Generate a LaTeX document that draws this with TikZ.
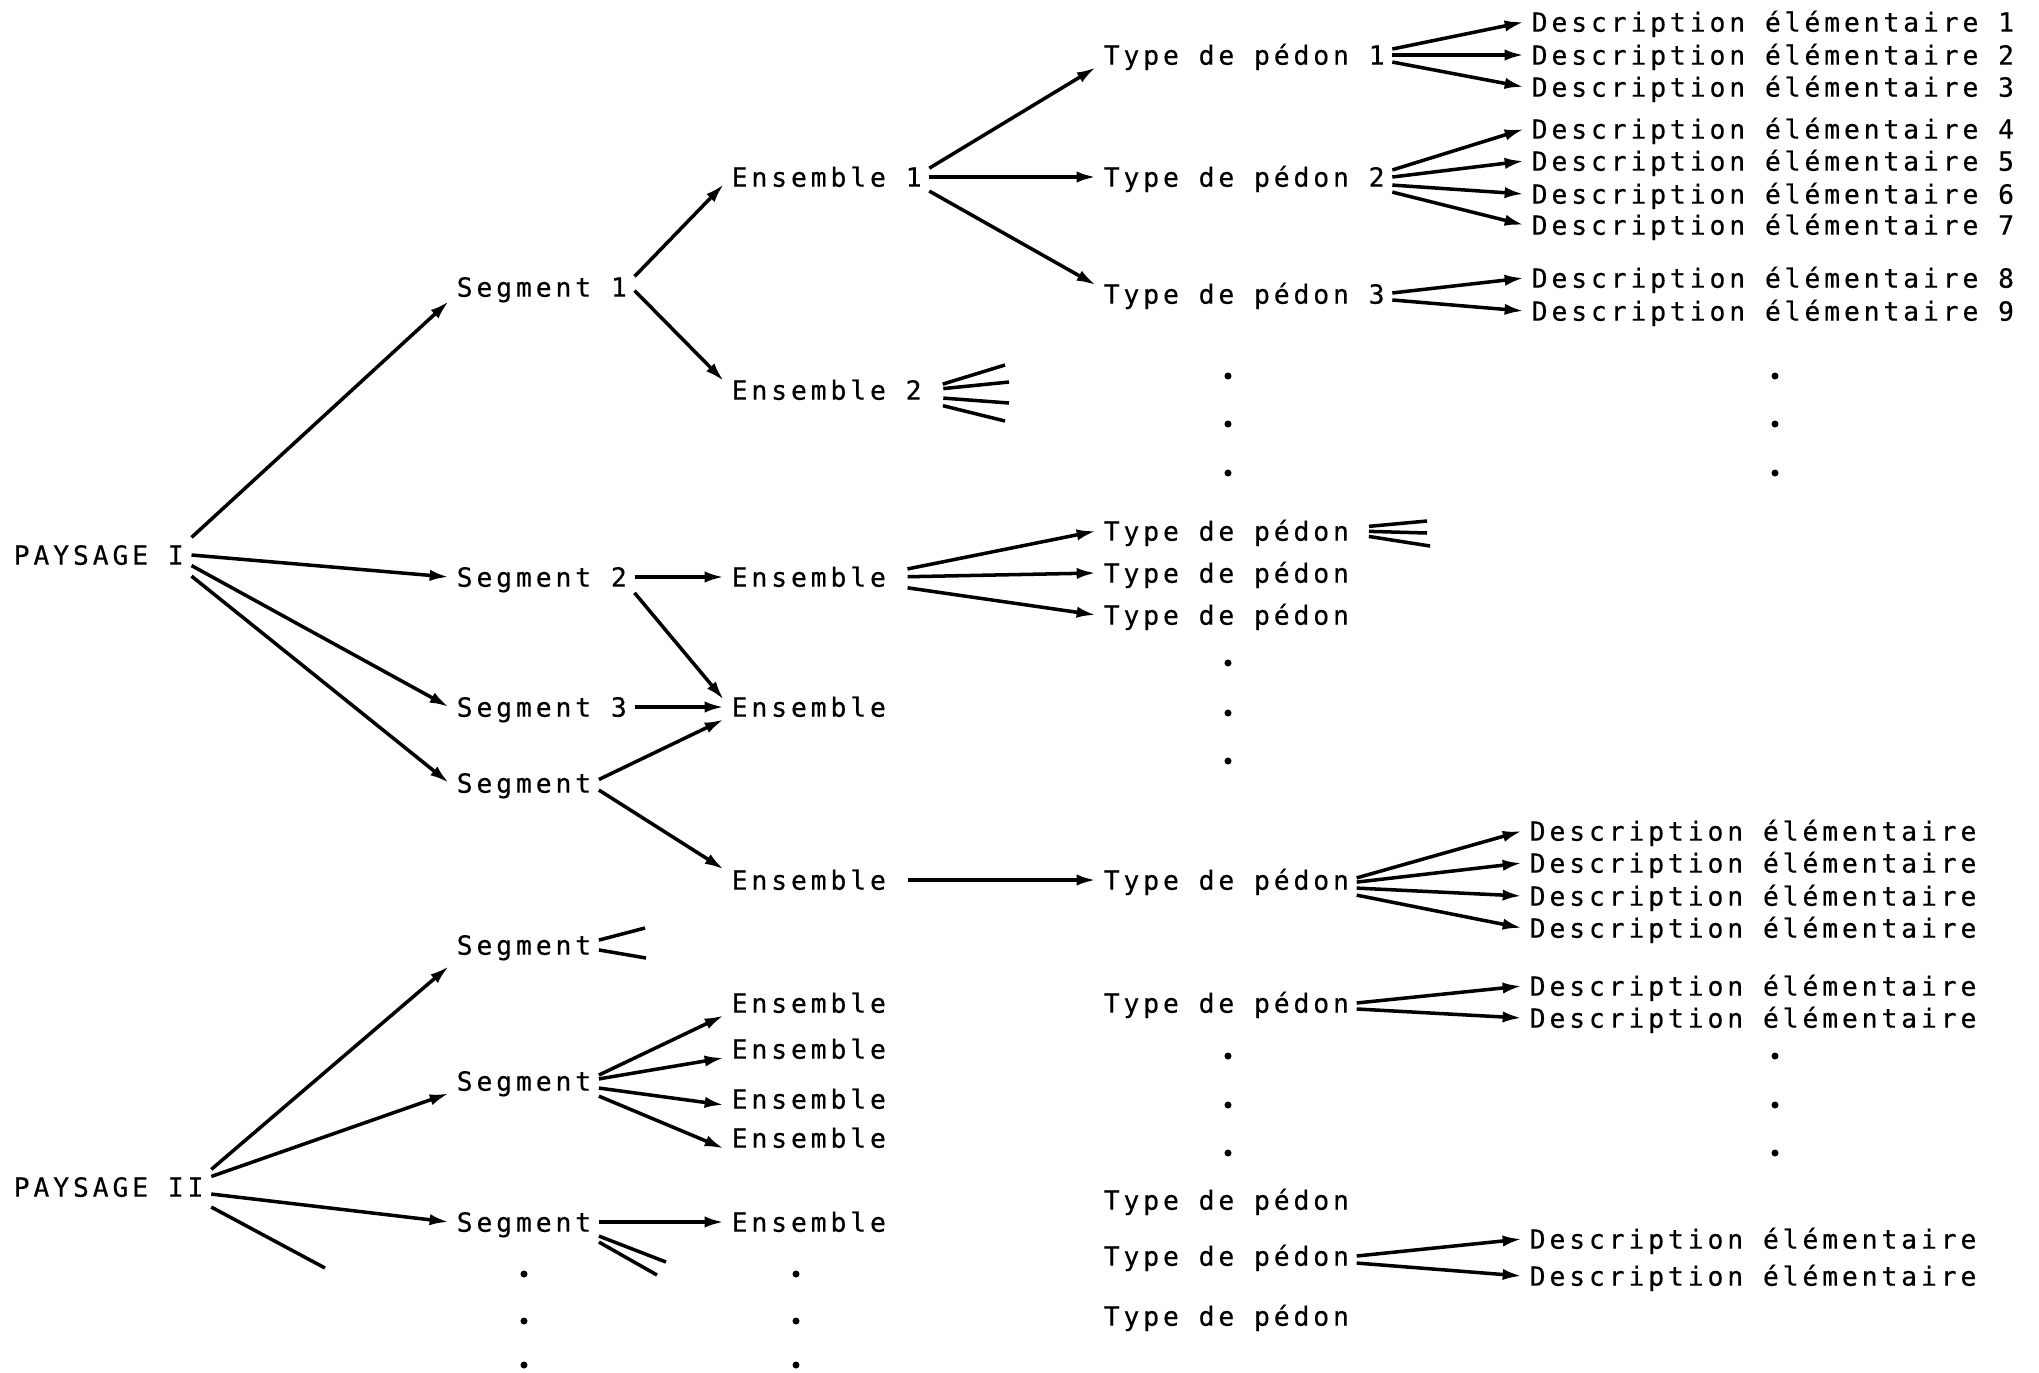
\documentclass[tikz,border=0pt]{standalone}
\usepackage{fontspec}
\setmainfont{DejaVu Sans Mono}[LetterSpace=14.7, FakeBold=0.4]
\usetikzlibrary{arrows.meta}

\begin{document}
\begin{tikzpicture}[x=0.01cm, y=-0.01cm,
        every node/.style={anchor=west, inner xsep=2pt, inner ysep=0pt,
            text height=5.5pt, text depth=0pt, font=\fontsize{7.5pt}{9pt}\selectfont},
        arr/.style={line width=1pt, -{Latex[length=5.5pt,width=3.2pt]}},
        stub/.style={line width=1pt}]
            \useasboundingbox (0,0) rectangle (2039,1372);

            %Nodes
            \node at (6,555)    (pI)   {PAYSAGE I};
            \node at (6,1187)   (pII)  {PAYSAGE II};
            \node at (449,287)  (s1)   {Segment 1};
            \node at (449,577)  (s2)   {Segment 2};
            \node at (449,707)  (s3)   {Segment 3};
            \node at (449,783)  (s4)   {Segment};
            \node at (449,945)  (s5)   {Segment};
            \node at (449,1081) (s6)   {Segment};
            \node at (449,1222) (s7)   {Segment};
            \node at (724,177)  (e1)   {Ensemble 1};
            \node at (724,390)  (e2)   {Ensemble 2};
            \node at (724,577)  (e3)   {Ensemble};
            \node at (724,707)  (e4)   {Ensemble};
            \node at (724,880)  (e5)   {Ensemble};
            \node at (724,1003) (e6)   {Ensemble};
            \node at (724,1049) (e7)   {Ensemble};
            \node at (724,1099) (e8)   {Ensemble};
            \node at (724,1138) (e9)   {Ensemble};
            \node at (724,1222) (e10)  {Ensemble};
            \node at (1096,55)   (t1)  {Type de pédon 1};
            \node at (1096,177)  (t2)  {Type de pédon 2};
            \node at (1096,294)  (t3)  {Type de pédon 3};
            \node at (1096,531)  (t4)  {Type de pédon};
            \node at (1096,573)  (t5)  {Type de pédon};
            \node at (1096,615)  (t6)  {Type de pédon};
            \node at (1096,880)  (t7)  {Type de pédon};
            \node at (1096,1003) (t8)  {Type de pédon};
            \node at (1096,1200) (t9)  {Type de pédon};
            \node at (1096,1256) (t10) {Type de pédon};
            \node at (1096,1316) (t11) {Type de pédon};
            \node at (1524,22)   (d1)  {Description élémentaire 1};
            \node at (1524,55)   (d2)  {Description élémentaire 2};
            \node at (1524,87)   (d3)  {Description élémentaire 3};
            \node at (1524,129)  (d4)  {Description élémentaire 4};
            \node at (1524,161)  (d5)  {Description élémentaire 5};
            \node at (1524,194)  (d6)  {Description élémentaire 6};
            \node at (1524,225)  (d7)  {Description élémentaire 7};
            \node at (1524,278)  (d8)  {Description élémentaire 8};
            \node at (1524,311)  (d9)  {Description élémentaire 9};
            \node at (1522,831)  (d10) {Description élémentaire};
            \node at (1522,863)  (d11) {Description élémentaire};
            \node at (1522,896)  (d12) {Description élémentaire};
            \node at (1522,928)  (d13) {Description élémentaire};
            \node at (1522,986)  (d14) {Description élémentaire};
            \node at (1522,1018) (d15) {Description élémentaire};
            \node at (1522,1239) (d16) {Description élémentaire};
            \node at (1522,1276) (d17) {Description élémentaire};

            %Free ends
            \coordinate (e2a) at (1005,365);
            \coordinate (e2b) at (1009,382);
            \coordinate (e2c) at (1009,403);
            \coordinate (e2d) at (1005,421);
            \coordinate (t4a) at (1427,521);
            \coordinate (t4b) at (1427,533);
            \coordinate (t4c) at (1430,546);
            \coordinate (s5a) at (645,928);
            \coordinate (s5b) at (646,958);
            \coordinate (s7a) at (666,1262);
            \coordinate (s7b) at (657,1275);
            \coordinate (pIIa) at (325,1268);

            %Lines
            \draw[arr] ([yshift=5pt]pI.east) -- ([yshift=-4pt]s1.west);
            \draw[arr] (pI.east) -- (s2.west);
            \draw[arr] ([yshift=-3pt]pI.east) -- (s3.west);
            \draw[arr] ([yshift=-6pt]pI.east) -- (s4.west);
            \draw[arr] ([yshift=3pt]s1.east) -- ([yshift=-2pt]e1.west);
            \draw[arr] ([yshift=-1pt]s1.east) -- ([yshift=2.5pt]e2.west);
            \draw[arr] (s2.east) -- (e3.west);
            \draw[arr] ([yshift=-4.5pt]s2.east) -- ([yshift=2pt]e4.west);
            \draw[arr] (s3.east) -- (e4.west);
            \draw[arr] ([yshift=1pt]s4.east) -- ([yshift=-3.5pt]e4.west);
            \draw[arr] ([yshift=-2pt]s4.east) -- ([yshift=3pt]e5.west);
            \draw[arr] ([yshift=2.5pt]e1.east) -- ([yshift=-3.5pt]t1.west);
            \draw[arr] (e1.east) -- (t2.west);
            \draw[arr] ([yshift=-4pt]e1.east) -- ([yshift=2.5pt]t3.west);
            \draw[arr, shorten <=4pt] ([yshift=1.5pt]e3.east) -- (t4.west);
            \draw[arr, shorten <=4pt] (e3.east) -- (t5.west);
            \draw[arr, shorten <=4pt] ([yshift=-2.5pt]e3.east) -- (t6.west);
            \draw[arr, shorten <=4pt] (e5.east) -- (t7.west);
            \draw[arr] ([yshift=1.7pt]t1.east) -- (d1.west);
            \draw[arr] (t1.east) -- (d2.west);
            \draw[arr] ([yshift=-2pt]t1.east) -- (d3.west);
            \draw[arr] ([yshift=2pt]t2.east) -- (d4.west);
            \draw[arr] (t2.east) -- (d5.west);
            \draw[arr] ([yshift=-2.3pt]t2.east) -- (d6.west);
            \draw[arr] ([yshift=-4.3pt]t2.east) -- (d7.west);
            \draw[arr] ([yshift=0.3pt]t3.east) -- (d8.west);
            \draw[arr] ([yshift=-1.7pt]t3.east) -- (d9.west);
            \draw[arr] ([yshift=0.6pt]t7.east) -- (d10.west);
            \draw[arr] ([yshift=-0.6pt]t7.east) -- (d11.west);
            \draw[arr] ([yshift=-2.3pt]t7.east) -- (d12.west);
            \draw[arr] ([yshift=-4.3pt]t7.east) -- (d13.west);
            \draw[arr] (t8.east) -- (d14.west);
            \draw[arr] ([yshift=-1.7pt]t8.east) -- (d15.west);
            \draw[arr] (t10.east) -- (d16.west);
            \draw[arr] ([yshift=-2pt]t10.east) -- (d17.west);
            \draw[arr] ([yshift=5pt]pII.east) -- ([yshift=-6pt]s5.west);
            \draw[arr] ([yshift=3pt]pII.east) -- ([yshift=-3.5pt]s6.west);
            \draw[arr] ([yshift=-2pt]pII.east) -- (s7.west);
            \draw[arr] ([yshift=1.7pt]s6.east) -- ([yshift=-3.5pt]e6.west);
            \draw[arr] ([yshift=0.6pt]s6.east) -- ([yshift=-2.5pt]e7.west);
            \draw[arr] ([yshift=-2pt]s6.east) -- ([yshift=-1.7pt]e8.west);
            \draw[arr] ([yshift=-4.3pt]s6.east) -- ([yshift=-3pt]e9.west);
            \draw[arr] (s7.east) -- (e10.west);

            %Stubs
            \draw[stub, shorten <=4pt] ([yshift=0.5pt]e2.east) -- (e2a);
            \draw[stub, shorten <=4pt] (e2.east) -- (e2b);
            \draw[stub, shorten <=4pt] ([yshift=-2pt]e2.east) -- (e2c);
            \draw[stub, shorten <=4pt] ([yshift=-3.5pt]e2.east) -- (e2d);
            \draw[stub, shorten <=3.5pt] ([yshift=1pt]t4.east) -- (t4a);
            \draw[stub, shorten <=3.5pt] (t4.east) -- (t4b);
            \draw[stub, shorten <=3.5pt] ([yshift=-1pt]t4.east) -- (t4c);
            \draw[stub] ([yshift=1.4pt]s5.east) -- (s5a);
            \draw[stub] ([yshift=-1.4pt]s5.east) -- (s5b);
            \draw[stub] ([yshift=-4pt]s7.east) -- (s7a);
            \draw[stub] ([yshift=-5.7pt]s7.east) -- (s7b);
            \draw[stub] ([yshift=-5.7pt]pII.east) -- (pIIa);

            %Dots
            \fill (1228,376) circle (1pt);
            \fill (1228,424) circle (1pt);
            \fill (1228,473) circle (1pt);
            \fill (1228,663) circle (1pt);
            \fill (1228,713) circle (1pt);
            \fill (1228,761) circle (1pt);
            \fill (1228,1056) circle (1pt);
            \fill (1228,1105) circle (1pt);
            \fill (1228,1153) circle (1pt);
            \fill (1775,376) circle (1pt);
            \fill (1775,424) circle (1pt);
            \fill (1775,473) circle (1pt);
            \fill (1775,1056) circle (1pt);
            \fill (1775,1105) circle (1pt);
            \fill (1775,1153) circle (1pt);
            \fill (524,1274) circle (1pt);
            \fill (524,1321) circle (1pt);
            \fill (524,1365) circle (1pt);
            \fill (796,1274) circle (1pt);
            \fill (796,1321) circle (1pt);
            \fill (796,1365) circle (1pt);
        \end{tikzpicture}
\end{document}
